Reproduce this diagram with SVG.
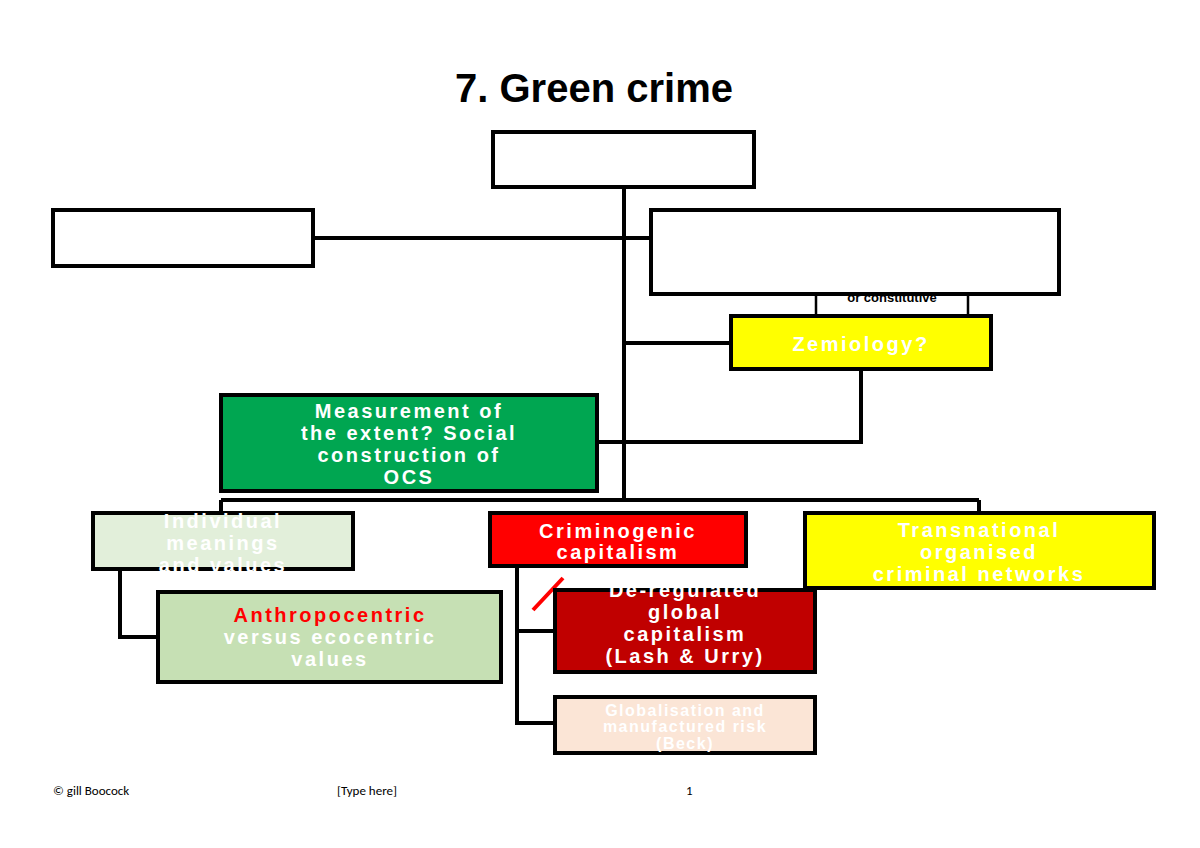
<svg xmlns="http://www.w3.org/2000/svg" width="1200" height="848" viewBox="0 0 1200 848">
<style>
.b{stroke:#000;stroke-width:4}
.c{fill:none;stroke:#000;stroke-width:4}
.t{font-family:"Liberation Sans",Arial,sans-serif;font-weight:bold;font-size:20px;letter-spacing:2.5px;fill:#fff;text-anchor:middle}
.f{font-family:"Carlito","Liberation Sans",sans-serif;font-size:13px;fill:#000}
</style>
<rect width="1200" height="848" fill="#fff"/>
<text x="594" y="102" font-family="Liberation Sans,Arial,sans-serif" font-weight="bold" font-size="40" text-anchor="middle">7.  Green crime</text>
<g id="connectors">
<path class="c" d="M624 187V500M313 238H651M624 343H731M861 369V442H597M221 500H979M221 500V513M979 500V513M120 569V637H158M517 566V723H555M517 631H555"/>
<path d="M816 294V316M968 294V316" stroke="#000" stroke-width="2.5"/>
<path d="M533 610L563 578" stroke="#f00" stroke-width="4"/>
</g>
<g id="constitutive"><text x="892" y="302" font-family="Liberation Sans,sans-serif" font-weight="bold" font-size="13" text-anchor="middle">or constitutive</text></g>
<g id="top"><rect class="b" x="493" y="132" width="261" height="55" fill="#fff"/></g>
<g id="left"><rect class="b" x="53" y="210" width="260" height="56" fill="#fff"/></g>
<g id="right"><rect class="b" x="651" y="210" width="408" height="84" fill="#fff"/></g>
<g id="zemiology"><rect class="b" x="731" y="316" width="260" height="53" fill="#ff0"/><text class="t" x="861" y="351">Zemiology?</text></g>
<g id="measurement"><rect class="b" x="221" y="395" width="376" height="96" fill="#00a651"/><text class="t" x="409" y="418">Measurement of</text><text class="t" x="409" y="440">the extent? Social</text><text class="t" x="409" y="462">construction of</text><text class="t" x="409" y="484">OCS</text></g>
<g id="individual"><rect class="b" x="93" y="513" width="260" height="56" fill="#e2efda"/><text class="t" x="223" y="528">Individual</text><text class="t" x="223" y="550">meanings</text><text class="t" x="223" y="572">and values</text></g>
<g id="criminogenic"><rect class="b" x="490" y="513" width="256" height="53" fill="#f00"/><text class="t" x="618" y="538">Criminogenic</text><text class="t" x="618" y="559">capitalism</text></g>
<g id="transnational"><rect class="b" x="805" y="513" width="349" height="75" fill="#ff0"/><text class="t" x="979" y="537">Transnational</text><text class="t" x="979" y="559">organised</text><text class="t" x="979" y="581">criminal networks</text></g>
<g id="anthropocentric"><rect class="b" x="158" y="592" width="343" height="90" fill="#c6e0b4"/><text class="t" x="330" y="622" fill="#f00" style="fill:#f00">Anthropocentric</text><text class="t" x="330" y="644">versus ecocentric</text><text class="t" x="330" y="666">values</text></g>
<g id="deregulated"><rect class="b" x="555" y="590" width="260" height="82" fill="#c00000"/><text class="t" x="685" y="597">De-regulated</text><text class="t" x="685" y="619">global</text><text class="t" x="685" y="641">capitalism</text><text class="t" x="685" y="663">(Lash &amp; Urry)</text></g>
<g id="globalisation"><rect class="b" x="555" y="697" width="260" height="56" fill="#fbe5d6"/><text class="t" x="685" y="716" style="font-size:16px;letter-spacing:1.5px">Globalisation and</text><text class="t" x="685" y="732" style="font-size:16px;letter-spacing:1.5px">manufactured risk</text><text class="t" x="685" y="749" style="font-size:16px;letter-spacing:1.5px">(Beck)</text></g>
<text class="f" x="53" y="795">© gill Boocock</text>
<text class="f" x="337" y="795">[Type here]</text>
<text class="f" x="686" y="795">1</text>
</svg>
